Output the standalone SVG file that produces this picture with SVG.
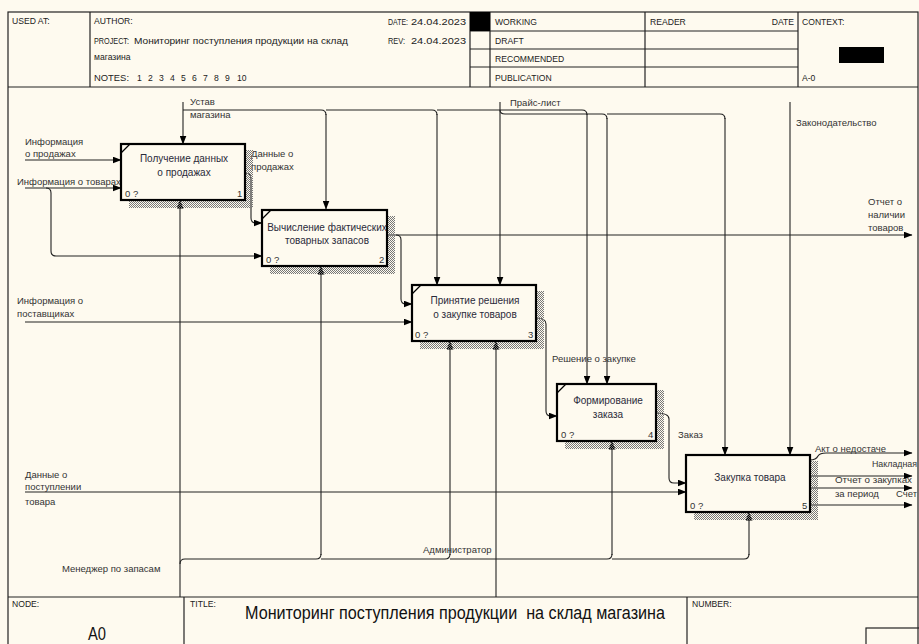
<svg xmlns="http://www.w3.org/2000/svg" width="919" height="644" viewBox="0 0 919 644">
<style>
.bg{fill:#FEFAEF}
.fr{fill:none;stroke:#222;stroke-width:1.2}
.t{font-family:"Liberation Sans",Arial,sans-serif;font-size:9.5px;fill:#333}
.h{font-family:"Liberation Sans",Arial,sans-serif;font-size:8.6px;fill:#222}
.bt{font-family:"Liberation Sans",Arial,sans-serif;font-size:10px;fill:#2a2a3a;text-anchor:middle}
.box{fill:#FEFAEF;stroke:#000;stroke-width:2.2}
.sh{fill:url(#hatch)}
.c{fill:none;stroke:#222;stroke-width:1.1}
.ca{fill:none;stroke:#222;stroke-width:1.1;marker-end:url(#ah)}
</style>
<defs>
<pattern id="hatch" width="2" height="2" patternUnits="userSpaceOnUse">
<rect width="1" height="1" fill="#777"/><rect x="1" y="1" width="1" height="1" fill="#777"/>
</pattern>
<marker id="ah" markerWidth="9" markerHeight="7" refX="8.5" refY="3.5" orient="auto" markerUnits="userSpaceOnUse">
<path d="M0,0 L9,3.5 L0,7 z" fill="#000"/>
</marker>
</defs>
<rect class="bg" x="0" y="0" width="919" height="644"/>
<g id="frame">
<rect class="fr" x="8" y="12" width="910" height="640"/>
<line class="fr" x1="8" y1="87" x2="918" y2="87"/>
<line class="fr" x1="90" y1="12" x2="90" y2="87"/>
<line class="fr" x1="470" y1="12" x2="470" y2="87"/>
<line class="fr" x1="490" y1="12" x2="490" y2="87"/>
<line class="fr" x1="645" y1="12" x2="645" y2="87"/>
<line class="fr" x1="798" y1="12" x2="798" y2="87"/>
<line class="fr" x1="470" y1="31" x2="798" y2="31"/>
<line class="fr" x1="470" y1="49" x2="798" y2="49"/>
<line class="fr" x1="470" y1="67" x2="798" y2="67"/>
<rect x="470" y="12" width="20" height="19" fill="#000"/>
<rect x="839" y="47" width="45" height="16" fill="#000"/>
<text class="h" x="12" y="24">USED AT:</text>
<text class="h" x="94" y="24">AUTHOR:</text>
<text class="h" x="94" y="44" textLength="35" lengthAdjust="spacingAndGlyphs">PROJECT:</text>
<text class="h" x="134" y="44" textLength="214" lengthAdjust="spacingAndGlyphs">Мониторинг поступления продукции на склад</text>
<text class="h" x="94" y="60">магазина</text>
<text class="h" x="94" y="81" textLength="35" lengthAdjust="spacingAndGlyphs">NOTES:</text>
<text class="h" y="81"><tspan x="137">1</tspan><tspan x="148">2</tspan><tspan x="159">3</tspan><tspan x="170">4</tspan><tspan x="181">5</tspan><tspan x="192">6</tspan><tspan x="203">7</tspan><tspan x="214">8</tspan><tspan x="225">9</tspan><tspan x="237">10</tspan></text>
<text class="h" x="388" y="25" textLength="20" lengthAdjust="spacingAndGlyphs">DATE:</text>
<text class="h" x="411" y="25" textLength="55" lengthAdjust="spacingAndGlyphs">24.04.2023</text>
<text class="h" x="388" y="44" textLength="17" lengthAdjust="spacingAndGlyphs">REV:</text>
<text class="h" x="411" y="44" textLength="55" lengthAdjust="spacingAndGlyphs">24.04.2023</text>
<text class="h" x="495" y="25">WORKING</text>
<text class="h" x="495" y="44">DRAFT</text>
<text class="h" x="495" y="62">RECOMMENDED</text>
<text class="h" x="495" y="81">PUBLICATION</text>
<text class="h" x="650" y="25">READER</text>
<text class="h" x="794" y="25" text-anchor="end">DATE</text>
<text class="h" x="802" y="25">CONTEXT:</text>
<text class="h" x="802" y="81">A-0</text>
<line class="fr" x1="8" y1="597" x2="918" y2="597"/>
<line class="fr" x1="184" y1="597" x2="184" y2="644"/>
<line class="fr" x1="687" y1="597" x2="687" y2="644"/>
<rect class="fr" x="866" y="628" width="60" height="30"/>
<text class="h" x="12" y="607" font-size="7">NODE:</text>
<text class="h" x="190" y="607" font-size="7">TITLE:</text>
<text class="h" x="692" y="607" font-size="7">NUMBER:</text>
<text transform="translate(245,619) scale(1,1.12)" x="0" y="0" xml:space="preserve" font-family="Liberation Sans, Arial, sans-serif" font-size="16" fill="#111" textLength="420" lengthAdjust="spacingAndGlyphs">Мониторинг поступления продукции  на склад магазина</text>
<text transform="translate(88,640) scale(1,1.15)" x="0" y="0" font-family="Liberation Sans, Arial, sans-serif" font-size="16" fill="#111" textLength="18" lengthAdjust="spacingAndGlyphs">A0</text>
</g>
<g id="connectors">
<path class="ca" d="M25,160 H121"/>
<path class="ca" d="M25,188 H121"/>
<path class="ca" d="M46,188 Q51,188 51,193 V251 Q51,256 56,256 H262"/>
<path class="ca" d="M245,173 Q251,173 251,179 V218 Q251,223 256,223 H262"/>
<path class="ca" d="M183,102 V144"/>
<path class="c" d="M183,110 H321 Q326,110 326,115"/>
<path class="ca" d="M326,114 V209"/>
<path class="c" d="M326,110 H432 Q437,110 437,115"/>
<path class="ca" d="M437,114 V285"/>
<path class="c" d="M437,110 H582 Q587,110 587,115"/>
<path class="ca" d="M587,114 V384"/>
<path class="ca" d="M500,102 V285"/>
<path class="c" d="M500,110 Q500,114 505,114 H602 Q607,114 607,119"/>
<path class="ca" d="M607,118 V384"/>
<path class="c" d="M607,114 H720 Q725,114 725,119"/>
<path class="ca" d="M725,118 V455"/>
<path class="ca" d="M790,102 V455"/>
<path class="ca" d="M387,235 H912"/>
<path class="ca" d="M396,235 Q401,235 401,240 V299 Q401,304 406,304 H412"/>
<path class="ca" d="M25,322 H412"/>
<path class="ca" d="M536,318 Q546,318 546,324 V411 Q546,416 551,416 H557"/>
<path class="ca" d="M656,413 Q669,413 669,419 V478 Q669,483 674,483 H686"/>
<path class="ca" d="M25,492 H686"/>
<path class="ca" d="M810,460 Q816,460 818,456 Q820,453 826,453 H912"/>
<path class="ca" d="M810,476 H912"/>
<path class="ca" d="M810,488 H912"/>
<path class="ca" d="M810,505 H912"/>
<path class="ca" d="M180,597 V200"/>
<path class="c" d="M180,564 Q180,559 185,559 H316 Q321,559 321,554"/>
<path class="ca" d="M321,555 V266"/>
<path class="c" d="M321,559 H445 Q450,559 450,554"/>
<path class="ca" d="M450,555 V341"/>
<path class="ca" d="M496,597 V341"/>
<path class="c" d="M450,559 H607 Q612,559 612,554"/>
<path class="ca" d="M612,555 V441"/>
<path class="c" d="M612,559 H744 Q749,559 749,554"/>
<path class="ca" d="M749,555 V512"/>
</g>
<g id="labels">
<text class="t" x="25" y="145">Информация</text>
<text class="t" x="25" y="157">о продажах</text>
<text class="t" x="17" y="185">Информация о товарах</text>
<text class="t" x="190" y="105">Устав</text>
<text class="t" x="190" y="118">магазина</text>
<text class="t" x="251" y="157">Данные о</text>
<text class="t" x="251" y="170">продажах</text>
<text class="t" x="510" y="106">Прайс-лист</text>
<text class="t" x="796" y="126">Законодательство</text>
<text class="t" x="868" y="205">Отчет о</text>
<text class="t" x="868" y="218">наличии</text>
<text class="t" x="868" y="231">товаров</text>
<text class="t" x="17" y="304">Информация о</text>
<text class="t" x="17" y="317">поставщиках</text>
<text class="t" x="552" y="362">Решение о закупке</text>
<text class="t" x="678" y="438">Заказ</text>
<text class="t" x="25" y="478">Данные о</text>
<text class="t" x="25" y="490">поступлении</text>
<text class="t" x="25" y="505">товара</text>
<text class="t" x="815" y="452">Акт о недостаче</text>
<text class="t" x="872" y="467" textLength="45" lengthAdjust="spacingAndGlyphs">Накладная</text>
<text class="t" x="835" y="483" textLength="77" lengthAdjust="spacingAndGlyphs">Отчет о закупках</text>
<text class="t" x="835" y="497">за период</text>
<text class="t" x="896" y="497" textLength="21" lengthAdjust="spacingAndGlyphs">Счет</text>
<text class="t" x="423" y="553">Администратор</text>
<text class="t" x="62" y="572">Менеджер по запасам</text>
</g>
<g id="box1">
<path class="sh" d="M245,150 H253 V208 H129 V200 H245 Z"/>
<rect class="box" x="121" y="144" width="124" height="56"/>
<line x1="121" y1="153" x2="130" y2="144" stroke="#000" stroke-width="1.2"/>
<text class="bt" x="184" y="162">Получение данных</text>
<text class="bt" x="184" y="176">о продажах</text>
<text class="t" x="125" y="197">0 ?</text>
<text class="t" x="237" y="197">1</text>
</g>
<g id="box2">
<path class="sh" d="M387,216 H395 V274 H270 V266 H387 Z"/>
<rect class="box" x="262" y="210" width="125" height="56"/>
<line x1="262" y1="219" x2="271" y2="210" stroke="#000" stroke-width="1.2"/>
<text class="bt" x="327" y="231">Вычисление фактических</text>
<text class="bt" x="327" y="244">товарных запасов</text>
<text class="t" x="266" y="263">0 ?</text>
<text class="t" x="379" y="263">2</text>
</g>
<g id="box3">
<path class="sh" d="M536,291 H544 V349 H420 V341 H536 Z"/>
<rect class="box" x="412" y="285" width="124" height="56"/>
<line x1="412" y1="294" x2="421" y2="285" stroke="#000" stroke-width="1.2"/>
<text class="bt" x="475" y="304">Принятие решения</text>
<text class="bt" x="475" y="318">о закупке товаров</text>
<text class="t" x="415" y="338">0 ?</text>
<text class="t" x="528" y="338">3</text>
</g>
<g id="box4">
<path class="sh" d="M656,390 H664 V449 H565 V441 H656 Z"/>
<rect class="box" x="557" y="384" width="99" height="57"/>
<line x1="557" y1="393" x2="566" y2="384" stroke="#000" stroke-width="1.2"/>
<text class="bt" x="608" y="404">Формирование</text>
<text class="bt" x="608" y="418">заказа</text>
<text class="t" x="561" y="438">0 ?</text>
<text class="t" x="648" y="438">4</text>
</g>
<g id="box5">
<path class="sh" d="M810,461 H818 V520 H694 V512 H810 Z"/>
<rect class="box" x="686" y="455" width="124" height="57"/>
<text class="bt" x="750" y="481">Закупка товара</text>
<text class="t" x="690" y="509">0 ?</text>
<text class="t" x="802" y="509">5</text>
</g>
</svg>
